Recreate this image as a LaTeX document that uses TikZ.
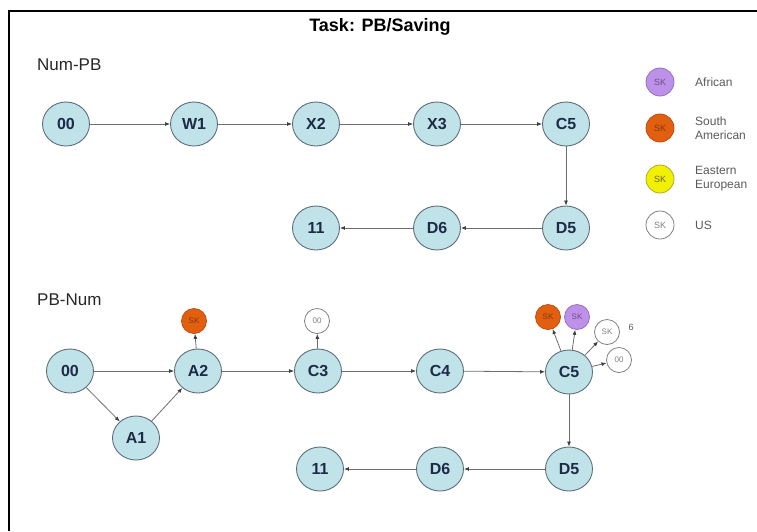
\documentclass[tikz,border=0pt]{standalone}
\usepackage{fontspec}
\setmainfont{Liberation Sans}
\usetikzlibrary{shapes.geometric,arrows.meta}
\definecolor{nodefill}{RGB}{192,226,233}
\definecolor{nodeline}{RGB}{95,110,120}
\definecolor{nodetext}{RGB}{30,42,70}
\definecolor{edgecol}{RGB}{110,110,110}
\definecolor{orangefill}{RGB}{225,95,15}
\definecolor{orangeline}{RGB}{190,80,20}
\definecolor{purplefill}{RGB}{190,145,232}
\definecolor{purpleline}{RGB}{150,110,200}
\definecolor{yellowfill}{RGB}{240,240,0}
\definecolor{yellowline}{RGB}{180,170,40}
\definecolor{legtext}{RGB}{90,90,90}
\tikzset{
  st/.style={ellipse, draw=nodeline, line width=0.9pt, fill=nodefill,
    minimum width=47pt, minimum height=44pt, inner sep=0pt,
    text=nodetext, font=\fontsize{16}{16}\selectfont\bfseries},
  small/.style={circle, line width=0.8pt, minimum size=25pt, inner sep=0pt,
    font=\fontsize{8}{8}\selectfont},
  sorange/.style={small, draw=orangeline, fill=orangefill, text=orangeline!70!black},
  spurple/.style={small, draw=purpleline, fill=purplefill, text=purpleline!70!black},
  syellow/.style={small, draw=yellowline, fill=yellowfill, text=yellowline!60!black},
  swhite/.style={small, draw=gray, fill=white, text=gray},
  edge/.style={draw=edgecol, line width=0.8pt, -{Latex[length=5pt,width=4pt,color=black!75]}},
  sectionlbl/.style={anchor=west, font=\fontsize{17}{17}\selectfont, text=black!85, inner sep=0pt},
  legendlbl/.style={anchor=west, align=left, font=\fontsize{12}{14}\selectfont, text=legtext, inner sep=0pt},
}
\begin{document}
\begin{tikzpicture}[x=1pt,y=-1pt]
\useasboundingbox (0,0) rectangle (757,531);
\clip (0,0) rectangle (757,531);
% frame
\draw[line width=2pt] (9,531) -- (9,11) -- (758,11);
% title
\node[font=\fontsize{18}{18}\selectfont\bfseries, inner sep=0pt] (title) at (380,27) {Task: PB/Saving};
\node[sectionlbl] (numpb) at (37,65) {Num-PB};
\node[sectionlbl] (pbnum) at (37,300) {PB-Num};
% top diagram
\node[st] (t00) at (66,124) {00};
\node[st] (tW1) at (194,124) {W1};
\node[st] (tX2) at (316,124) {X2};
\node[st] (tX3) at (437,124) {X3};
\node[st] (tC5) at (566,124) {C5};
\node[st] (tD5) at (566,228) {D5};
\node[st] (tD6) at (437,228) {D6};
\node[st] (t11) at (316,228) {11};
\draw[edge] (t00) -- (tW1);
\draw[edge] (tW1) -- (tX2);
\draw[edge] (tX2) -- (tX3);
\draw[edge] (tX3) -- (tC5);
\draw[edge] (tC5) -- (tD5);
\draw[edge] (tD5) -- (tD6);
\draw[edge] (tD6) -- (t11);
% bottom diagram
\node[st] (b00) at (70,371) {00};
\node[st] (bA2) at (198,371) {A2};
\node[st] (bA1) at (136,438) {A1};
\node[st] (bC3) at (318,371) {C3};
\node[st] (bC4) at (440,371) {C4};
\node[st] (bC5) at (569,372) {C5};
\node[st] (bD5) at (569,469) {D5};
\node[st] (bD6) at (440,469) {D6};
\node[st] (b11) at (320,469) {11};
\draw[edge] (b00) -- (bA2);
\draw[edge] (b00) -- (bA1);
\draw[edge] (bA1) -- (bA2);
\draw[edge] (bA2) -- (bC3);
\draw[edge] (bC3) -- (bC4);
\draw[edge] (bC4) -- (bC5);
\draw[edge] (bC5) -- (bD5);
\draw[edge] (bD5) -- (bD6);
\draw[edge] (bD6) -- (b11);
% small satellite nodes
\node[sorange] (sA2) at (194,321) {SK};
\node[swhite] (sC3) at (317,321) {00};
\node[sorange] (sC5o) at (548,317) {SK};
\node[spurple] (sC5p) at (577,317) {SK};
\node[swhite] (sC5w) at (607,332) {SK};
\node[swhite] (sC5z) at (619,360) {00};
\node[font=\fontsize{9}{9}\selectfont, text=legtext, inner sep=0pt] (six) at (631,327) {6};
\draw[edge] (bA2) -- (sA2);
\draw[edge] (bC3) -- (sC3);
\draw[edge] (bC5) -- (sC5o);
\draw[edge] (bC5) -- (sC5p);
\draw[edge] (bC5) -- (sC5w);
\draw[edge] (bC5) -- (sC5z);
% legend
\node[spurple, minimum size=28pt, font=\fontsize{9}{9}\selectfont] (lp) at (660,82) {SK};
\node[sorange, minimum size=28pt, font=\fontsize{9}{9}\selectfont] (lo) at (660,128) {SK};
\node[syellow, minimum size=28pt, font=\fontsize{9}{9}\selectfont] (ly) at (660,179) {SK};
\node[swhite, minimum size=28pt, font=\fontsize{9}{9}\selectfont] (lw) at (660,225) {SK};
\node[legendlbl] (lpt) at (695,82) {African};
\node[legendlbl] (lot) at (695,128) {South\\American};
\node[legendlbl] (lyt) at (695,179) {Eastern\\European};
\node[legendlbl] (lwt) at (695,225) {US};
\end{tikzpicture}
\end{document}
